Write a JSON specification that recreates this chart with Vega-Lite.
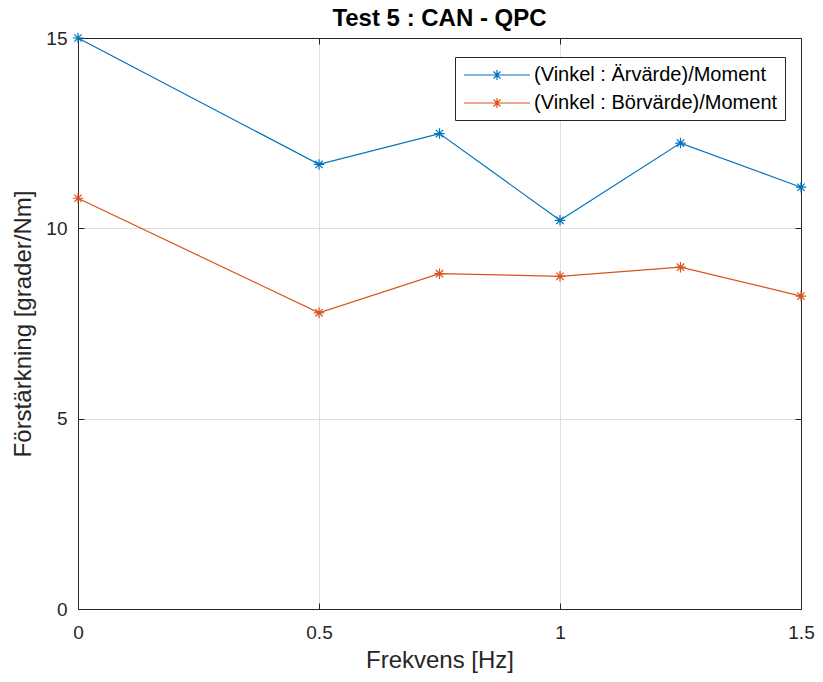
{
  "$schema": "https://vega.github.io/schema/vega-lite/v6.json",
  "width": 723,
  "height": 571,
  "autosize": {"type": "none"},
  "padding": {"left": 78, "top": 38, "right": 22, "bottom": 73},
  "background": "white",
  "title": {"text": "Test 5 : CAN - QPC", "fontSize": 24, "font": "Liberation Sans", "fontWeight": "bold", "color": "#000000", "offset": -2, "anchor": "middle"},
  "config": {
    "font": "Liberation Sans",
    "view": {"stroke": "#262626", "strokeWidth": 1},
    "axis": {"gridColor": "#dfdfdf", "gridWidth": 1, "domainColor": "#262626", "tickColor": "#262626", "labelColor": "#262626", "titleColor": "#262626", "labelFontSize": 19, "titleFontSize": 24, "titleFontWeight": "normal", "labelFont": "Liberation Sans", "titleFont": "Liberation Sans", "labelFlush": false, "labelOverlap": false, "labelBound": false}
  },
  "data": {"values": [
    {"f": 0, "g": 15.0, "s": "(Vinkel : Ärvärde)/Moment"},
    {"f": 0.5, "g": 11.68, "s": "(Vinkel : Ärvärde)/Moment"},
    {"f": 0.75, "g": 12.49, "s": "(Vinkel : Ärvärde)/Moment"},
    {"f": 1, "g": 10.21, "s": "(Vinkel : Ärvärde)/Moment"},
    {"f": 1.25, "g": 12.24, "s": "(Vinkel : Ärvärde)/Moment"},
    {"f": 1.5, "g": 11.08, "s": "(Vinkel : Ärvärde)/Moment"},
    {"f": 0, "g": 10.79, "s": "(Vinkel : Börvärde)/Moment"},
    {"f": 0.5, "g": 7.78, "s": "(Vinkel : Börvärde)/Moment"},
    {"f": 0.75, "g": 8.81, "s": "(Vinkel : Börvärde)/Moment"},
    {"f": 1, "g": 8.74, "s": "(Vinkel : Börvärde)/Moment"},
    {"f": 1.25, "g": 8.98, "s": "(Vinkel : Börvärde)/Moment"},
    {"f": 1.5, "g": 8.22, "s": "(Vinkel : Börvärde)/Moment"}
  ]},
  "layer": [
    {
      "mark": {"type": "line", "strokeWidth": 1.2, "clip": false,
        "point": {"shape": "M0,-1V1M-1,0H1M-0.7,-0.7L0.7,0.7M-0.7,0.7L0.7,-0.7", "filled": false, "size": 110, "strokeWidth": 1.2}},
      "encoding": {
        "x": {"field": "f", "type": "quantitative", "scale": {"domain": [0, 1.5], "nice": false, "zero": false},
          "axis": {"title": "Frekvens [Hz]", "values": [0, 0.5, 1, 1.5], "tickSize": -6, "labelPadding": 20, "titlePadding": 6, "format": "~g"}},
        "y": {"field": "g", "type": "quantitative", "scale": {"domain": [0, 15], "nice": false},
          "axis": {"title": "Förstärkning [grader/Nm]", "values": [0, 5, 10, 15], "tickSize": -6, "labelPadding": 17, "titlePadding": 10}},
        "color": {"field": "s", "type": "nominal", "sort": null,
          "scale": {"range": ["#0072BD", "#D95319"]},
          "legend": {"title": null, "orient": "none", "legendX": 377, "legendY": 19,
            "symbolType": "M-0.9,0H5.7M2.4,-0.5V0.5M1.9,0H2.9M2.05,-0.35L2.75,0.35M2.05,0.35L2.75,-0.35",
            "symbolSize": 400, "symbolStrokeWidth": 1.2, "symbolFillColor": "transparent",
            "labelFontSize": 20, "labelColor": "#000000", "labelFont": "Liberation Sans", "labelOffset": 50, "rowPadding": 7,
            "strokeColor": "#262626", "fillColor": "white", "padding": 7, "labelLimit": 400}}
      }
    },
    {
      "mark": {"type": "point", "opacity": 0},
      "encoding": {
        "x": {"field": "f", "type": "quantitative", "axis": {"orient": "top", "title": null, "labels": false, "grid": false, "values": [0, 0.5, 1, 1.5], "tickSize": -6, "domain": true}},
        "y": {"field": "g", "type": "quantitative", "axis": {"orient": "right", "title": null, "labels": false, "grid": false, "values": [0, 5, 10, 15], "tickSize": -6, "domain": true}}
      }
    }
  ],
  "resolve": {"axis": {"x": "independent", "y": "independent"}}
}
